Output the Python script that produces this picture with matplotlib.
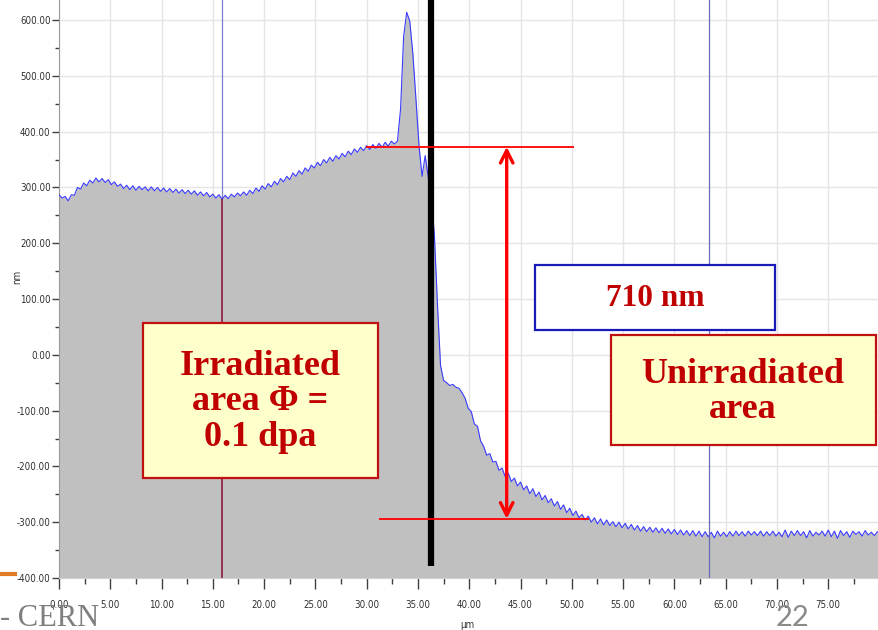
import numpy as np
import matplotlib
matplotlib.use("Agg")
from matplotlib import pyplot as plt
from matplotlib.patches import Rectangle
from matplotlib.ticker import MultipleLocator, FormatStrFormatter

# AFM line profile, sampled every 0.3 um from 0 to 80.1 um (height in nm)
height_nm = [
    287, 281, 284, 276, 287, 286, 300, 297, 308, 303,
    313, 308, 317, 310, 316, 309, 314, 305, 310, 302,
    306, 298, 304, 296, 303, 295, 302, 296, 301, 294,
    301, 294, 300, 293, 299, 292, 298, 291, 297, 290,
    296, 289, 295, 288, 294, 286, 292, 285, 291, 283,
    288, 281, 287, 279, 286, 280, 288, 283, 290, 285,
    292, 286, 295, 289, 299, 293, 303, 297, 307, 301,
    311, 305, 316, 310, 320, 314, 326, 320, 330, 324,
    335, 329, 340, 335, 345, 339, 350, 344, 354, 347,
    357, 351, 361, 355, 365, 359, 369, 363, 372, 366,
    375, 368, 377, 370, 379, 372, 381, 374, 383, 378,
    383, 440, 570, 614, 598, 540, 459, 375, 320, 357,
    318, 280, 215, 90, -19, -46, -50, -55, -53, -58,
    -60, -68, -78, -96, -102, -124, -128, -154, -164, -180,
    -177, -192, -191, -207, -203, -218, -212, -227, -221, -235,
    -228, -242, -235, -249, -240, -254, -246, -260, -252, -265,
    -258, -271, -263, -277, -269, -283, -275, -288, -280, -292,
    -286, -296, -289, -300, -292, -303, -294, -305, -296, -306,
    -299, -308, -300, -310, -302, -312, -304, -314, -306, -316,
    -308, -317, -309, -318, -310, -319, -311, -320, -312, -321,
    -313, -322, -314, -323, -315, -324, -315, -325, -316, -326,
    -317, -326, -318, -328, -316, -325, -318, -326, -317, -325,
    -316, -324, -317, -325, -316, -323, -317, -324, -316, -325,
    -317, -324, -316, -325, -318, -326, -314, -327, -316, -324,
    -315, -324, -317, -328, -315, -325, -318, -323, -316, -325,
    -314, -326, -316, -329, -315, -324, -317, -327, -316, -322,
    -317, -325, -315, -323, -318, -324, -317, -321,
]
position_um = np.linspace(0, 80.1, len(height_nm))

cursor_um = [15.9, 63.4]
step_um = 36.25
top_level = 373
bottom_level = -294
arrow_um = 43.65
upper_span = [29.9, 50.2]
lower_span = [31.2, 51.7]

xmax = 79.95
ymin, ymax = -400, 636

fig = plt.figure(figsize=(8.79, 6.30), dpi=100)
ax = fig.add_axes([59 / 879, 52 / 630, 820 / 879, 578 / 630])

ax.set_xlim(0, xmax)
ax.set_ylim(ymin, ymax)
ax.grid(True, color="#e4e4e4", lw=1.0, zorder=0)
ax.set_axisbelow(True)

# cursor 1 (blue part hidden under the fill)
ax.axvline(cursor_um[0], color="#7f7fd0", lw=0.9, zorder=1)
ax.fill_between(position_um, height_nm, ymin, color="#c0c0c0", lw=0, zorder=2)
ax.plot(position_um, height_nm, color="#3a3aff", lw=0.8, zorder=3)
h_c1 = np.interp(cursor_um[0], position_um, height_nm)
ax.vlines(cursor_um[0], ymin, h_c1, color="#8e1a40", lw=1.2, zorder=3)
ax.axvline(cursor_um[1], color="#6a6ab8", lw=0.9, zorder=3)

# annotations
ax.vlines(step_um, -378, ymax, color="black", lw=4.5, zorder=5)
ax.hlines(top_level, upper_span[0], upper_span[1], color="red", lw=1.3, zorder=6)
ax.hlines(bottom_level, lower_span[0], lower_span[1], color="red", lw=1.3, zorder=6)
ax.annotate("", xy=(arrow_um, top_level), xytext=(arrow_um, bottom_level),
            arrowprops=dict(arrowstyle="<->, head_length=0.9, head_width=0.45",
                            color="red", lw=2.4, shrinkA=0, shrinkB=0),
            zorder=6)

tick_font = dict(family="DejaVu Sans", stretch="condensed", size=7, color="#303030")
ax.xaxis.set_major_locator(MultipleLocator(5))
ax.xaxis.set_minor_locator(MultipleLocator(2.5))
ax.yaxis.set_major_locator(MultipleLocator(100))
ax.yaxis.set_minor_locator(MultipleLocator(50))
ax.xaxis.set_major_formatter(FormatStrFormatter("%.2f"))
ax.yaxis.set_major_formatter(FormatStrFormatter("%.2f"))
ax.tick_params(axis="x", which="major", length=8, width=1, color="#404040", pad=8)
ax.tick_params(axis="x", which="minor", length=4, width=1, color="#404040")
ax.tick_params(axis="y", which="major", length=5, width=1, color="#404040", pad=1)
ax.tick_params(axis="y", which="minor", length=3, width=1, color="#404040")
for lab in ax.get_xticklabels() + ax.get_yticklabels():
    lab.set_fontfamily(tick_font["family"])
    lab.set_fontstretch(tick_font["stretch"])
    lab.set_fontsize(tick_font["size"])
    lab.set_color(tick_font["color"])

for s in ["top", "right"]:
    ax.spines[s].set_visible(False)
ax.spines["left"].set_color("#9a9a9a")
ax.spines["bottom"].set_color("#d0d0d0")

ax.set_xlabel("µm", **tick_font)
ax.set_ylabel("nm", **tick_font)
ax.xaxis.set_label_coords((467 - 59) / 820, -(620 - 578) / 578)
ax.yaxis.set_label_coords((22 - 59) / 820, (578 - 277) / 578)


def box(x0, y0, x1, y1, face, edge):
    fig.add_artist(Rectangle((x0 / 879, 1 - y1 / 630), (x1 - x0) / 879, (y1 - y0) / 630,
                             transform=fig.transFigure, facecolor=face, edgecolor=edge,
                             lw=1.6, zorder=10))


label_font = dict(family="Liberation Serif", weight="bold", color="#c00000",
                  ha="center", va="center", zorder=11)

box(143, 323, 378, 478, "#ffffcc", "#c0100f")
fig.text(260 / 879, 1 - 402 / 630, "Irradiated\narea Φ =\n0.1 dpa", size=26,
         linespacing=1.1, **label_font)

box(535, 265, 775, 330, "white", "#1a1ab8")
fig.text(655 / 879, 1 - 299 / 630, "710 nm", size=22.5, **label_font)

box(611, 335, 876, 445, "#ffffcc", "#c0100f")
fig.text(743 / 879, 1 - 392 / 630, "Unirradiated\narea", size=26,
         linespacing=1.1, **label_font)

# slide decoration
fig.add_artist(plt.Line2D([0, 15 / 879], [1 - 574 / 630] * 2, color="#e07b24", lw=3,
                          transform=fig.transFigure))
fig.text(0, 1 - 626 / 630, "- CERN", family="Liberation Serif", size=22, color="#7f7f7f",
         ha="left", va="baseline")
fig.text(793 / 879, 1 - 626 / 630, "22", family="Lato", size=21, color="#8a8a8a",
         ha="center", va="baseline")

fig.savefig("out.png", dpi=100)
